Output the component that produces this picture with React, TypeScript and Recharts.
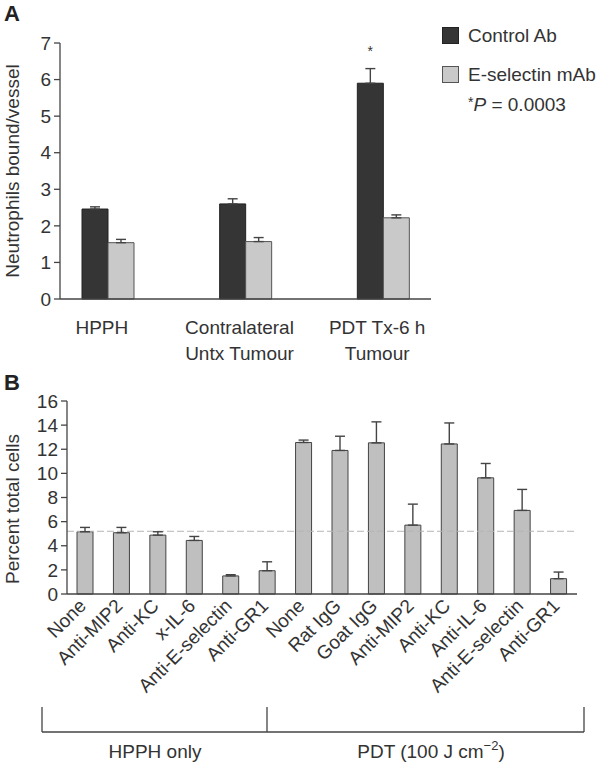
import React from 'react';
import { BarChart, Bar, XAxis, YAxis, ErrorBar, LabelList, ReferenceLine } from 'recharts';

// Panel A: neutrophils bound per vessel
const groupLabels = ['HPPH', 'Contralateral\nUntx Tumour', 'PDT Tx-6 h\nTumour'];
const controlAb = [2.46, 2.6, 5.9];
const controlAbErr = [0.06, 0.14, 0.4];
const eSelectinMab = [1.54, 1.57, 2.22];
const eSelectinMabErr = [0.09, 0.11, 0.08];
const significance = ['', '', '*'];
const ticksA = [0, 1, 2, 3, 4, 5, 6, 7];

// Panel B: percent total cells
const treatmentLabels = [
  'None', 'Anti-MIP2', 'Anti-KC', 'x-IL-6', 'Anti-E-selectin', 'Anti-GR1',
  'None', 'Rat IgG', 'Goat IgG', 'Anti-MIP2', 'Anti-KC', 'Anti-IL-6', 'Anti-E-selectin', 'Anti-GR1',
];
const percentCells = [5.16, 5.08, 4.88, 4.44, 1.5, 1.93, 12.56, 11.9, 12.53, 5.71, 12.44, 9.63, 6.93, 1.27];
const percentErr = [0.36, 0.44, 0.28, 0.33, 0.1, 0.74, 0.2, 1.18, 1.74, 1.74, 1.74, 1.19, 1.74, 0.55];
const baselinePercent = 5.2;
const ticksB = [0, 2, 4, 6, 8, 10, 12, 14, 16];

const FONT = '"Liberation Sans", Arial, Helvetica, sans-serif';
const TEXT = '#333';
const AXIS = '#444';
const DARK = '#353535';
const LIGHT = '#c9c9c9';
const BAR_B = '#bfbfbf';

const dataA = groupLabels.map((g, i) => ({
  group: g,
  control: controlAb[i],
  controlErr: [0, controlAbErr[i]],
  eSel: eSelectinMab[i],
  eSelErr: [0, eSelectinMabErr[i]],
  sig: significance[i],
}));

const dataB = treatmentLabels.map((t, i) => ({
  name: t,
  value: percentCells[i],
  err: [0, percentErr[i]],
}));

const GroupTick = (props: any) => {
  const { x, y, payload } = props;
  const lines = String(payload.value).split('\n');
  return (
    <g transform={`translate(${x},${y})`}>
      {lines.map((line, i) => (
        <text key={i} x={-6} y={35 + i * 26} textAnchor="middle" fill={TEXT} fontSize={19} fontFamily={FONT}>
          {line}
        </text>
      ))}
    </g>
  );
};

const RotatedTick = (props: any) => {
  const { x, y, payload } = props;
  return (
    <g transform={`translate(${x + 2},${y + 13})`}>
      <text x={0} y={0} textAnchor="end" transform="rotate(-45)" fill={TEXT} fontSize={19} fontFamily={FONT}>
        {payload.value}
      </text>
    </g>
  );
};

const App: React.FC = () => {
  return (
    <div style={{ position: 'absolute', left: 0, top: 0, width: 600, height: 762, background: '#fff', fontFamily: FONT }}>
      <div style={{ position: 'absolute', left: 0, top: 0 }}>
        <BarChart width={600} height={370} data={dataA} margin={{ top: 43, right: 169, bottom: 11, left: 0 }} barGap={0}>
          <XAxis
            dataKey="group"
            height={60}
            tickLine={false}
            tickSize={0}
            tickMargin={0}
            interval={0}
            stroke={AXIS}
            strokeWidth={1.3}
            padding={{ left: -21, right: -21 }}
            tick={<GroupTick />}
          />
          <YAxis
            width={60}
            domain={[0, 7]}
            ticks={ticksA}
            interval={0}
            stroke={AXIS}
            strokeWidth={1.3}
            tickSize={6}
            tickMargin={3}
            tick={{ fill: TEXT, fontSize: 19, fontFamily: FONT }}
          />
          <Bar dataKey="control" name="Control Ab" fill={DARK} stroke="#222" barSize={26} isAnimationActive={false}>
            <ErrorBar dataKey="controlErr" width={5} stroke={AXIS} strokeWidth={1.4} />
            <LabelList dataKey="sig" position="top" offset={27} fontSize={14} fill={TEXT} fontFamily={FONT} />
          </Bar>
          <Bar dataKey="eSel" name="E-selectin mAb" fill={LIGHT} stroke="#555" barSize={26} isAnimationActive={false}>
            <ErrorBar dataKey="eSelErr" width={5} stroke={AXIS} strokeWidth={1.4} />
          </Bar>
        </BarChart>
      </div>

      <div style={{ position: 'absolute', left: 0, top: 370 }}>
        <BarChart width={600} height={330} data={dataB} margin={{ top: 31, right: 23, bottom: 6, left: 0 }}>
          <ReferenceLine y={baselinePercent} stroke="#b5b5b5" strokeDasharray="7 3" />
          <XAxis
            dataKey="name"
            height={100}
            tickLine={false}
            tickSize={0}
            tickMargin={0}
            interval={0}
            stroke={AXIS}
            strokeWidth={1.3}
            tick={<RotatedTick />}
          />
          <YAxis
            width={67}
            domain={[0, 16]}
            ticks={ticksB}
            interval={0}
            stroke={AXIS}
            strokeWidth={1.3}
            tickSize={6}
            tickMargin={3}
            tick={{ fill: TEXT, fontSize: 19, fontFamily: FONT }}
          />
          <Bar dataKey="value" fill={BAR_B} stroke={AXIS} barSize={16} isAnimationActive={false}>
            <ErrorBar dataKey="err" width={5} stroke={AXIS} strokeWidth={1.4} />
          </Bar>
        </BarChart>
      </div>

      <svg width={600} height={762} style={{ position: 'absolute', left: 0, top: 0, pointerEvents: 'none' }} fontFamily={FONT}>
        <text x={4} y={21} fontSize={22} fontWeight="bold" fill="#222">A</text>
        <text x={4} y={390} fontSize={22} fontWeight="bold" fill="#222">B</text>

        <text x={0} y={0} transform="translate(19,171) rotate(-90)" textAnchor="middle" fontSize={19} fill={TEXT}>
          Neutrophils bound/vessel
        </text>
        <text x={0} y={0} transform="translate(19,509) rotate(-90)" textAnchor="middle" fontSize={19} fill={TEXT}>
          Percent total cells
        </text>

        {/* legend */}
        <rect x={442.5} y={27.5} width={16} height={16} fill={DARK} stroke="#222" />
        <text x={468} y={42} fontSize={19} fill={TEXT}>Control Ab</text>
        <rect x={442.5} y={66.5} width={16} height={16} fill={LIGHT} stroke="#555" />
        <text x={468} y={81} fontSize={19} fill={TEXT}>E-selectin mAb</text>
        <text x={468} y={111} fontSize={19} fill={TEXT}>
          <tspan fontSize={14} dy={-4}>*</tspan>
          <tspan fontStyle="italic" dy={4}>P</tspan>
          <tspan> = 0.0003</tspan>
        </text>

        {/* group brackets */}
        <g stroke={AXIS} strokeWidth={1.3} fill="none">
          <line x1={42} y1={707} x2={42} y2={732} />
          <line x1={267} y1={707} x2={267} y2={732} />
          <line x1={584} y1={707} x2={584} y2={732} />
          <line x1={42} y1={732} x2={584} y2={732} />
        </g>
        <text x={155} y={758} textAnchor="middle" fontSize={19} fill={TEXT}>HPPH only</text>
        <text x={431} y={758} textAnchor="middle" fontSize={19} fill={TEXT}>
          PDT (100 J cm<tspan dy={-8} fontSize={13}>−2</tspan><tspan dy={8}>)</tspan>
        </text>
      </svg>
    </div>
  );
};

export default App;
